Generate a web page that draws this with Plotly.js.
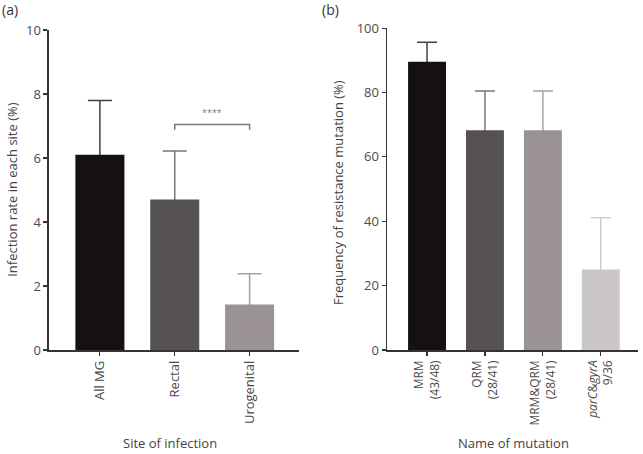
<!DOCTYPE html>
<html>
<head>
<meta charset="utf-8">
<script src="https://cdn.plot.ly/plotly-3.0.1.min.js"></script>
<style>html,body{margin:0;padding:0;background:#fff}#chart{width:643px;height:454px}</style>
</head>
<body>
<div id="chart"></div>
<script>
// Panel (a)
const sites = ['All MG', 'Rectal', 'Urogenital'];
const siteRates = [6.1, 4.7, 1.42];
const siteErr = [1.7, 1.52, 0.96];
const siteColors = ['#151111', '#575252', '#9b9393'];
const siteErrColors = ['#444040', '#7a7676', '#a8a2a2'];
const sigPair = ['Rectal', 'Urogenital'];
const sigLevel = 7.05;
const sigLabel = '****';

// Panel (b)
const mutations = ['MRM<br>(43/48)', 'QRM<br>(28/41)', 'MRM&QRM<br>(28/41)', '<i>parC</i>&<i>gyrA</i><br>9/36'];
const mutFreq = [89.6, 68.3, 68.3, 25.0];
const mutErr = [6.0, 12.2, 12.2, 16.1];
const mutColors = ['#151111', '#575252', '#9b9393', '#cbc7c8'];
const mutErrColors = ['#444040', '#7a7676', '#a8a2a2', '#cfcbcc'];

const FONT = 'Open Sans, Lato, sans-serif';
const traces = [];
function addBar(cat, val, err, color, errColor, capW, xa, ya) {
  // error bar (transparent bar) first, so the coloured bar covers the lower cap
  traces.push({
    type: 'bar', x: [cat], y: [val], width: 0.655,
    marker: {color: 'rgba(0,0,0,0)', line: {width: 0}},
    error_y: {type: 'data', array: [err], arrayminus: [val], symmetric: false, color: errColor, thickness: 1.5, width: capW},
    xaxis: xa, yaxis: ya, showlegend: false, hoverinfo: 'skip'
  });
  traces.push({
    type: 'bar', x: [cat], y: [val], width: 0.655,
    marker: {color: color, line: {width: 0}},
    xaxis: xa, yaxis: ya, showlegend: false, hoverinfo: 'skip'
  });
}
sites.forEach((s, i) => addBar(s, siteRates[i], siteErr[i], siteColors[i], siteErrColors[i], 12, 'x', 'y'));
mutations.forEach((m, i) => addBar(m, mutFreq[i], mutErr[i], mutColors[i], mutErrColors[i], 10, 'x2', 'y2'));

const axisCommon = {
  showgrid: false, zeroline: false, showline: true, linecolor: '#333', linewidth: 1.5,
  ticks: 'outside', ticklen: 4, tickwidth: 1.2, tickcolor: '#333',
  tickfont: {family: FONT, size: 13, color: '#4a4a4a'}
};

const i0 = sites.indexOf(sigPair[0]), i1 = sites.indexOf(sigPair[1]);
const layout = {
  width: 643, height: 454,
  margin: {l: 0, r: 0, t: 0, b: 0},
  paper_bgcolor: '#fff', plot_bgcolor: '#fff',
  barmode: 'overlay',
  xaxis: Object.assign({}, axisCommon, {domain: [0.0762, 0.465], range: [-0.68, 2.66], type: 'category',
    categoryorder: 'array', categoryarray: sites, tickangle: -90, anchor: 'y'}),
  yaxis: Object.assign({}, axisCommon, {domain: [0.229, 0.934], range: [0, 10], dtick: 2, anchor: 'x'}),
  xaxis2: Object.assign({}, axisCommon, {domain: [0.602, 0.992], range: [-0.69, 3.64], type: 'category',
    categoryorder: 'array', categoryarray: mutations, tickangle: -90, anchor: 'y2',
    tickfont: {family: FONT, size: 12, color: '#4a4a4a'}}),
  yaxis2: Object.assign({}, axisCommon, {domain: [0.229, 0.938], range: [0, 100], dtick: 20, anchor: 'x2'}),
  shapes: [{
    type: 'path', xref: 'x', yref: 'y',
    path: `M ${i0},${sigLevel - 0.17} L ${i0},${sigLevel} L ${i1},${sigLevel} L ${i1},${sigLevel - 0.17}`,
    line: {color: '#777', width: 1.5}
  }],
  annotations: [
    {text: sigLabel, xref: 'x', yref: 'y', x: (i0 + i1) / 2, y: sigLevel + 0.12, yanchor: 'bottom', showarrow: false,
      font: {family: FONT, size: 9, color: '#777'}},
    {text: '(a)', xref: 'paper', yref: 'paper', x: 0, y: 1.005, xanchor: 'left', yanchor: 'top', showarrow: false,
      font: {family: FONT, size: 14, color: '#333'}},
    {text: '(b)', xref: 'paper', yref: 'paper', x: 0.497, y: 1.005, xanchor: 'left', yanchor: 'top', showarrow: false,
      font: {family: FONT, size: 14, color: '#333'}},
    {text: 'Site of infection', xref: 'paper', yref: 'paper', x: 170 / 643, y: 0, xanchor: 'center', yanchor: 'bottom', showarrow: false,
      font: {family: FONT, size: 13, color: '#444'}},
    {text: 'Name of mutation', xref: 'paper', yref: 'paper', x: 513 / 643, y: 0, xanchor: 'center', yanchor: 'bottom', showarrow: false,
      font: {family: FONT, size: 13, color: '#444'}},
    {text: 'Infection rate in each site (%)', xref: 'paper', yref: 'paper', x: 1 / 643, y: 0.582, xanchor: 'left', yanchor: 'middle',
      textangle: -90, showarrow: false, font: {family: FONT, size: 13, color: '#444'}},
    {text: 'Frequency of resistance mutation (%)', xref: 'paper', yref: 'paper', x: 327 / 643, y: 0.575, xanchor: 'left', yanchor: 'middle',
      textangle: -90, showarrow: false, font: {family: FONT, size: 13, color: '#444'}}
  ]
};

Plotly.newPlot('chart', traces, layout, {displayModeBar: false, staticPlot: true});
</script>
</body>
</html>
